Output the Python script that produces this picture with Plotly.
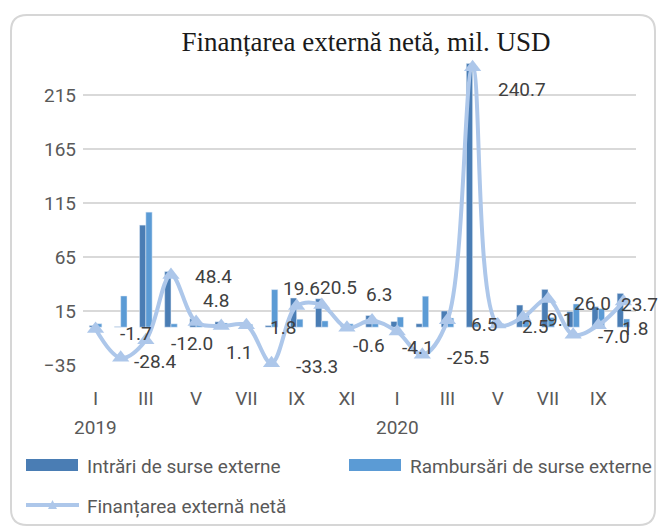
import plotly.graph_objects as go

# ---------------- data ----------------
month_labels = ["I", "II", "III", "IV", "V", "VI", "VII", "VIII", "IX", "X", "XI", "XII",
                "I", "II", "III", "IV", "V", "VI", "VII", "VIII", "IX", "X"]
years = ["2019", "2020"]
year_start_idx = [0, 12]

intrari = [1.5, 0.5, 94.5, 51.5, 7.9, 5.0, 4.5, 1.5, 27.0, 26.3, 2.5, 10.8,
           5.3, 3.2, 15.0, 244.0, 5.8, 20.5, 35.0, 14.5, 19.0, 31.3]
rambursari = [3.2, 28.9, 106.5, 3.1, 3.1, 3.9, 2.7, 34.8, 7.4, 5.8, 3.1, 4.5,
              9.4, 28.7, 8.5, 3.3, 3.3, 11.4, 9.0, 21.5, 17.2, 7.6]
net = [-1.7, -28.4, -12.0, 48.4, 4.8, 1.1, 1.8, -33.3, 19.6, 20.5, -0.6, 6.3,
       -4.1, -25.5, 6.5, 240.7, 2.5, 9.1, 26.0, -7.0, 1.8, 23.7]

series_names = ["Intrări de surse externe", "Rambursări de surse externe",
                "Finanțarea externă netă"]
title_text = "Finanțarea externă netă, mil. USD"

# label offsets (pixels) relative to points
label_dx = [40, 35, 46, 43, 20, 18, 37, 45, 5, 17, 22, 7, 21, 46, 37, 49, 37, 37, 44, 41, 37, 16]
label_dy = [-4, -4, -3, -2, 22, -26, -2, -3, 18, 18, -18, 26, -16, -3, -4, -22, -2, -2, -4, -2, -3, -3]

# ---------------- styling ----------------
W, H = 659, 530
ML, MR, MT, MB = 83, 23, 42, 165
PW, PH = W - ML - MR, H - MT - MB

C_DARK = "#4a7db4"
C_LIGHT = "#5b9bd5"
C_LINE = "#adc7ea"
TXT = "#404040"
TICK = "#595959"
FONT = "Roboto"


def px(x):
    return (x - ML) / PW


def py(y):
    return (H - MB - y) / PH


x_idx = list(range(len(net)))

fig = go.Figure()
fig.add_trace(go.Bar(x=x_idx, y=intrari, name=series_names[0], marker_color=C_DARK,
                     showlegend=False))
fig.add_trace(go.Bar(x=x_idx, y=rambursari, name=series_names[1], marker_color=C_LIGHT,
                     showlegend=False))
fig.add_trace(go.Scatter(x=x_idx, y=net, name=series_names[2], mode="lines+markers",
                         line=dict(color=C_LINE, width=4, shape="spline", smoothing=1.0),
                         marker=dict(symbol="triangle-up", size=15, color=C_LINE),
                         showlegend=False, cliponaxis=False))

annotations = []
for i, v in enumerate(net):
    annotations.append(dict(x=i, y=v, xref="x", yref="y", text=f"{v:.1f}",
                            showarrow=False, xanchor="center", yanchor="middle",
                            xshift=label_dx[i], yshift=label_dy[i],
                            font=dict(family=FONT, size=19, color=TXT)))

for yr, idx in zip(years, year_start_idx):
    annotations.append(dict(x=idx, y=py(427), xref="x", yref="paper", text=yr,
                            showarrow=False, xanchor="center", yanchor="middle",
                            font=dict(family=FONT, size=19, color=TICK)))

# manual legend
leg_font = dict(family=FONT, size=19, color=TICK)
annotations += [
    dict(x=px(85), y=py(466), xref="paper", yref="paper", text=series_names[0],
         showarrow=False, xanchor="left", yanchor="middle", font=leg_font),
    dict(x=px(408), y=py(466), xref="paper", yref="paper", text=series_names[1],
         showarrow=False, xanchor="left", yanchor="middle", font=leg_font),
    dict(x=px(85), y=py(506), xref="paper", yref="paper", text=series_names[2],
         showarrow=False, xanchor="left", yanchor="middle", font=leg_font),
]

shapes = [
    dict(type="rect", xref="paper", yref="paper", x0=px(26), x1=px(78), y0=py(471), y1=py(459),
         fillcolor=C_DARK, line=dict(width=0)),
    dict(type="rect", xref="paper", yref="paper", x0=px(349), x1=px(401), y0=py(471), y1=py(459),
         fillcolor=C_LIGHT, line=dict(width=0)),
    dict(type="line", xref="paper", yref="paper", x0=px(26), x1=px(79), y0=py(505), y1=py(505),
         line=dict(color=C_LINE, width=4)),
    dict(type="path", xref="paper", yref="paper",
         path=f"M {px(48)} {py(509)} L {px(57)} {py(509)} L {px(52.5)} {py(500)} Z",
         fillcolor=C_LINE, line=dict(width=0)),
]

# rounded border
bx0, by0, bx1, by1, r = 11, 15, 655, 525, 16
path = (f"M {px(bx0 + r)} {py(by0)} L {px(bx1 - r)} {py(by0)} "
        f"Q {px(bx1)} {py(by0)} {px(bx1)} {py(by0 + r)} "
        f"L {px(bx1)} {py(by1 - r)} Q {px(bx1)} {py(by1)} {px(bx1 - r)} {py(by1)} "
        f"L {px(bx0 + r)} {py(by1)} Q {px(bx0)} {py(by1)} {px(bx0)} {py(by1 - r)} "
        f"L {px(bx0)} {py(by0 + r)} Q {px(bx0)} {py(by0)} {px(bx0 + r)} {py(by0)} Z")
shapes.append(dict(type="path", xref="paper", yref="paper", path=path,
                   line=dict(color="#d6d6d6", width=2), layer="below"))

tickvals = x_idx[::2]
ticktext = month_labels[::2]

fig.update_layout(
    width=W, height=H,
    margin=dict(l=ML, r=MR, t=MT, b=MB, pad=0),
    paper_bgcolor="white", plot_bgcolor="white",
    barmode="group", bargap=0.5, bargroupgap=0.0,
    title=dict(text=title_text, x=px(366), xref="paper", xanchor="center",
               y=1 - 42 / H, yanchor="middle",
               font=dict(family="Liberation Serif", size=27, color="#1a1a1a")),
    xaxis=dict(range=[-0.5, len(net) - 0.5], tickvals=tickvals, ticktext=ticktext,
               showgrid=False, zeroline=False, showline=False, ticks="",
               ticklabelstandoff=20,
               tickfont=dict(family=FONT, size=19, color=TICK)),
    yaxis=dict(range=[-35, 264], tick0=-35, dtick=50, showgrid=True,
               gridcolor="#d9d9d9", gridwidth=1.5, zeroline=False, showline=False,
               ticks="", ticklabelstandoff=6,
               tickfont=dict(family=FONT, size=19, color=TICK)),
    annotations=annotations, shapes=shapes,
)

fig.write_html("out.html", config={"displayModeBar": False},
               post_script="document.body.style.margin='0';document.body.style.overflow='hidden';")
